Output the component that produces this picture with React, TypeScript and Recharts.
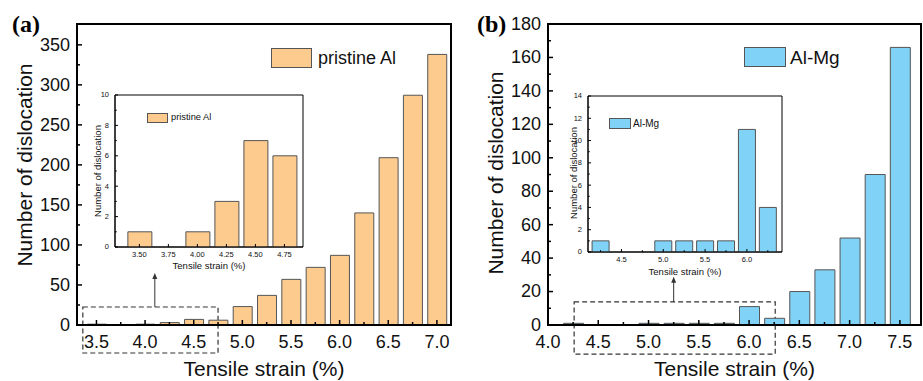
import React from 'react';
import { BarChart, Bar, XAxis, YAxis, ReferenceArea, ReferenceLine, Legend } from 'recharts';

// pristine Al: dislocation count per strain step
const alStrain = [3.5, 3.75, 4.0, 4.25, 4.5, 4.75, 5.0, 5.25, 5.5, 5.75, 6.0, 6.25, 6.5, 6.75, 7.0];
const alCount = [1, 0, 1, 3, 7, 6, 23, 37, 57, 72, 87, 140, 209, 287, 338];

// Al-Mg
const mgStrain = [4.25, 4.5, 4.75, 5.0, 5.25, 5.5, 5.75, 6.0, 6.25, 6.5, 6.75, 7.0, 7.25, 7.5];
const mgCount = [1, 0, 0, 1, 1, 1, 1, 11, 4, 20, 33, 52, 90, 166];

// tick values
const alXMajor = [3.5, 4.0, 4.5, 5.0, 5.5, 6.0, 6.5, 7.0];
const alXMinor = [3.75, 4.25, 4.75, 5.25, 5.75, 6.25, 6.75];
const alYMajor = [0, 50, 100, 150, 200, 250, 300, 350];
const alYMinor = [25, 75, 125, 175, 225, 275, 325];
const mgXMajor = [4.0, 4.5, 5.0, 5.5, 6.0, 6.5, 7.0, 7.5];
const mgXMinor = [4.25, 4.75, 5.25, 5.75, 6.25, 6.75, 7.25];
const mgYMajor = [0, 20, 40, 60, 80, 100, 120, 140, 160, 180];
const mgYMinor = [10, 30, 50, 70, 90, 110, 130, 150, 170];

const alInsetXMajor = [3.5, 3.75, 4.0, 4.25, 4.5, 4.75];
const alInsetYMajor = [0, 2, 4, 6, 8, 10];
const alInsetYMinor = [1, 3, 5, 7, 9];
const mgInsetXMajor = [4.5, 5.0, 5.5, 6.0];
const mgInsetXMinor = [4.25, 4.75, 5.25, 5.75, 6.25];
const mgInsetYMajor = [0, 2, 4, 6, 8, 10, 12, 14];
const mgInsetYMinor = [1, 3, 5, 7, 9, 11, 13];

const FONT = "'Liberation Sans', Arial, sans-serif";
const ORANGE = '#FECB8F';
const BLUE = '#80D3F7';
const INK = '#111';

const rows = (xs: number[], ys: number[], lo: number, hi: number) =>
  xs.map((strain, i) => ({ strain, count: ys[i] })).filter((r) => r.strain >= lo && r.strain <= hi);

const merge = (a: number[], b: number[]) => [...a, ...b].sort((p, q) => p - q);

interface Box { x1: number; x2: number; y1: number; y2: number; arrowX: number; arrowTop: number }

interface HistProps {
  left: number; top: number; width: number; height: number;
  mTop: number; mRight: number; yAxisWidth: number; xAxisHeight: number;
  data: { strain: number; count: number }[];
  xDomain: [number, number]; yDomain: [number, number];
  xMajor: number[]; xMinor: number[]; yMajor: number[]; yMinor: number[];
  xFmt: (v: number) => string;
  barSize: number; fill: string; name: string;
  tickFont: number; tickLen: number; tickW: number; axisW: number;
  xLabelDy: number; yLabelGap: number;
  titleFont: number; yTitle: [number, number]; xTitleY: number;
  keyAt: { left: number; top: number; w: number; h: number; font: number; gap: number };
  box?: Box;
}

function Hist(p: HistProps) {
  const plotW = p.width - p.yAxisWidth - p.mRight;
  const cx = p.yAxisWidth + plotW / 2;

  const xTick = (t: any) => {
    const v = t.payload.value;
    const major = p.xMajor.includes(v);
    return (
      <g>
        <line x1={t.x} x2={t.x} y1={t.y} y2={t.y - (major ? p.tickLen : p.tickLen * 0.6)} stroke="#000" strokeWidth={p.tickW} />
        {major && (
          <text x={t.x} y={t.y + p.xLabelDy} textAnchor="middle" fontSize={p.tickFont} fontFamily={FONT} fill={INK}>
            {p.xFmt(v)}
          </text>
        )}
      </g>
    );
  };

  const yTick = (t: any) => {
    const v = t.payload.value;
    const major = p.yMajor.includes(v);
    return (
      <g>
        <line x1={t.x} x2={t.x + (major ? p.tickLen : p.tickLen * 0.6)} y1={t.y} y2={t.y} stroke="#000" strokeWidth={p.tickW} />
        {major && (
          <text x={t.x - p.yLabelGap} y={t.y + p.tickFont * 0.33} textAnchor="end" fontSize={p.tickFont} fontFamily={FONT} fill={INK}>
            {v}
          </text>
        )}
      </g>
    );
  };

  const arrow = (s: any) => {
    const tip = Math.min(s.y1, s.y2);
    const base = Math.max(s.y1, s.y2);
    return (
      <g>
        <line x1={s.x1} x2={s.x1} y1={base} y2={tip + 4} stroke="#333" strokeWidth={1} />
        <polygon points={`${s.x1},${tip} ${s.x1 - 2.5},${tip + 6} ${s.x1 + 2.5},${tip + 6}`} fill="#333" />
      </g>
    );
  };

  const [tx, ty] = p.yTitle;

  return (
    <div style={{ position: 'absolute', left: p.left, top: p.top }}>
      <BarChart
        width={p.width}
        height={p.height}
        data={p.data}
        margin={{ top: p.mTop, right: p.mRight, bottom: 0, left: 0 }}
      >
        <XAxis
          dataKey="strain"
          type="number"
          domain={p.xDomain}
          allowDataOverflow
          ticks={merge(p.xMajor, p.xMinor)}
          interval={0}
          height={p.xAxisHeight}
          tickSize={0}
          tickMargin={0}
          tickLine={false}
          tick={xTick}
          axisLine={{ stroke: '#000', strokeWidth: p.axisW }}
          label={() => (
            <text x={cx} y={p.xTitleY} textAnchor="middle" fontSize={p.titleFont} fontFamily={FONT} fill={INK}>
              Tensile strain (%)
            </text>
          )}
        />
        <YAxis
          type="number"
          domain={p.yDomain}
          allowDataOverflow
          ticks={merge(p.yMajor, p.yMinor)}
          interval={0}
          width={p.yAxisWidth}
          tickSize={0}
          tickMargin={0}
          tickLine={false}
          tick={yTick}
          axisLine={{ stroke: '#000', strokeWidth: p.axisW }}
          label={() => (
            <text
              x={tx}
              y={ty}
              transform={`rotate(-90 ${tx} ${ty})`}
              textAnchor="middle"
              dominantBaseline="central"
              fontSize={p.titleFont}
              fontFamily={FONT}
              fill={INK}
            >
              Number of dislocation
            </text>
          )}
        />
        <Legend
          layout="vertical"
          align="center"
          verticalAlign="middle"
          wrapperStyle={{ left: p.keyAt.left, top: p.keyAt.top, width: 'auto' }}
          content={() => (
            <div style={{ display: 'flex', alignItems: 'center', fontFamily: FONT, fontSize: p.keyAt.font, lineHeight: 1, whiteSpace: 'nowrap', color: INK }}>
              <span
                style={{
                  display: 'inline-block',
                  width: p.keyAt.w,
                  height: p.keyAt.h,
                  background: p.fill,
                  border: '1px solid #555',
                  boxSizing: 'border-box',
                  marginRight: p.keyAt.gap,
                }}
              />
              {p.name}
            </div>
          )}
        />
        <Bar
          dataKey="count"
          name={p.name}
          fill={p.fill}
          stroke="#555"
          strokeWidth={1}
          barSize={p.barSize}
          isAnimationActive={false}
        />
        <ReferenceArea
          x1={p.xDomain[0]}
          x2={p.xDomain[1]}
          y1={p.yDomain[0]}
          y2={p.yDomain[1]}
          fill="none"
          fillOpacity={0}
          stroke="#000"
          strokeWidth={p.axisW}
          ifOverflow="visible"
        />
        {p.box && (
          <ReferenceArea
            x1={p.box.x1}
            x2={p.box.x2}
            y1={p.box.y1}
            y2={p.box.y2}
            fill="none"
            fillOpacity={0}
            stroke="#333"
            strokeWidth={1.2}
            strokeDasharray="5 3"
            ifOverflow="visible"
          />
        )}
        {p.box && (
          <ReferenceLine
            segment={[
              { x: p.box.arrowX, y: p.box.y2 },
              { x: p.box.arrowX, y: p.box.arrowTop },
            ]}
            ifOverflow="visible"
            shape={arrow}
          />
        )}
      </BarChart>
    </div>
  );
}

const mainStyle = {
  mTop: 24, xAxisHeight: 56,
  tickFont: 18, tickLen: 5, tickW: 1.5, axisW: 2,
  xLabelDy: 22.5, yLabelGap: 7,
  titleFont: 21, xTitleY: 376,
};

const insetStyle = {
  mTop: 10, xAxisHeight: 28,
  tickFont: 7.5, tickLen: 3, tickW: 1, axisW: 1,
  xLabelDy: 9.8, yLabelGap: 6,
  titleFont: 9.5,
};

export default function App() {
  return (
    <div style={{ position: 'absolute', left: 0, top: 0, width: 923, height: 381, background: '#fff', overflow: 'hidden' }}>
      <Hist
        {...mainStyle}
        left={0} top={0} width={460} height={381} mRight={9} yAxisWidth={77}
        data={rows(alStrain, alCount, 3.3, 7.2)}
        xDomain={[3.3, 7.145]} yDomain={[0, 376]}
        xMajor={alXMajor} xMinor={alXMinor} yMajor={alYMajor} yMinor={alYMinor}
        xFmt={(v) => v.toFixed(1)}
        barSize={19} fill={ORANGE} name="pristine Al"
        yTitle={[24, 165]}
        keyAt={{ left: 271, top: 48, w: 41, h: 20, font: 18, gap: 6 }}
        box={{ x1: 3.36, x2: 4.75, y1: -35, y2: 22.5, arrowX: 4.1, arrowTop: 65 }}
      />
      <Hist
        {...insetStyle}
        left={80} top={85} width={230} height={190} mRight={7} yAxisWidth={35}
        data={rows(alStrain, alCount, 3.29, 4.91)}
        xDomain={[3.29, 4.91]} yDomain={[0, 10]}
        xMajor={alInsetXMajor} xMinor={[]} yMajor={alInsetYMajor} yMinor={alInsetYMinor}
        xFmt={(v) => v.toFixed(2)}
        barSize={24} fill={ORANGE} name="pristine Al"
        yTitle={[17, 86]} xTitleY={183.5}
        keyAt={{ left: 67, top: 28, w: 21, h: 10, font: 9.3, gap: 3 }}
      />
      <Hist
        {...mainStyle}
        left={460} top={0} width={463} height={381} mRight={2} yAxisWidth={88}
        data={rows(mgStrain, mgCount, 4.0, 7.71)}
        xDomain={[4.0, 7.71]} yDomain={[0, 180]}
        xMajor={mgXMajor} xMinor={mgXMinor} yMajor={mgYMajor} yMinor={mgYMinor}
        xFmt={(v) => v.toFixed(1)}
        barSize={20} fill={BLUE} name="Al-Mg"
        yTitle={[35, 173]}
        keyAt={{ left: 284, top: 47, w: 42, h: 20, font: 19, gap: 4 }}
        box={{ x1: 4.26, x2: 6.26, y1: -17.4, y2: 13.8, arrowX: 5.25, arrowTop: 28.8 }}
      />
      <Hist
        {...insetStyle}
        left={548} top={86} width={242} height={194} mRight={8} yAxisWidth={40}
        data={rows(mgStrain, mgCount, 4.1, 6.42)}
        xDomain={[4.1, 6.42]} yDomain={[0, 14]}
        xMajor={mgInsetXMajor} xMinor={mgInsetXMinor} yMajor={mgInsetYMajor} yMinor={mgInsetYMinor}
        xFmt={(v) => v.toFixed(1)}
        barSize={17} fill={BLUE} name="Al-Mg"
        yTitle={[25, 87]} xTitleY={188.5}
        keyAt={{ left: 61, top: 32, w: 22, h: 11, font: 10, gap: 2 }}
      />
      <div style={{ position: 'absolute', left: 12, top: 12, fontFamily: "'Liberation Serif', 'Times New Roman', serif", fontWeight: 'bold', fontSize: 24, lineHeight: '24px', color: '#000' }}>
        (a)
      </div>
      <div style={{ position: 'absolute', left: 477, top: 12, fontFamily: "'Liberation Serif', 'Times New Roman', serif", fontWeight: 'bold', fontSize: 24, lineHeight: '24px', color: '#000' }}>
        (b)
      </div>
    </div>
  );
}
